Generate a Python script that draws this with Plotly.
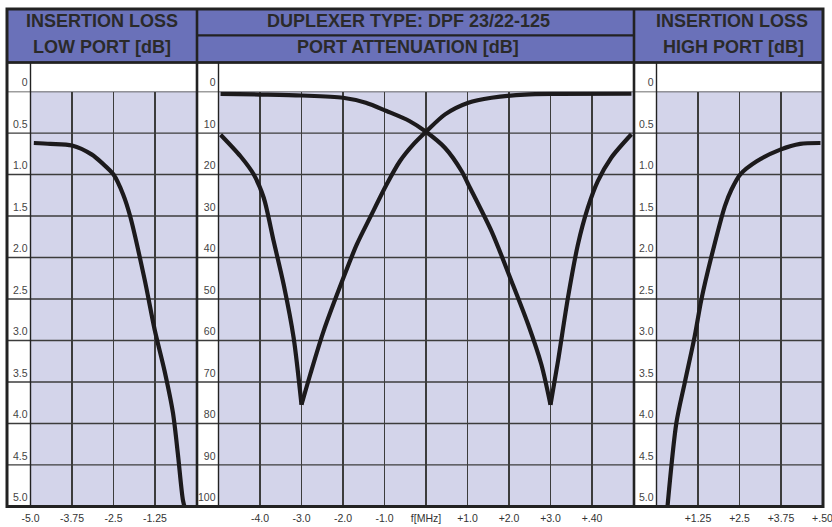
import plotly.graph_objects as go

# ---------------- data ----------------
# Left panel: insertion loss, low port (frequency offset MHz, loss dB)
low_f = [-4.9, -4.4, -3.75, -3.15, -2.85, -2.5, -2.21, -2.0, -1.56, -1.26, -0.96, -0.71, -0.56, -0.41, -0.33]
low_il = [0.62, 0.63, 0.65, 0.76, 0.86, 1.0, 1.24, 1.5, 2.27, 2.87, 3.37, 3.87, 4.37, 4.92, 5.05]

# Right panel: insertion loss, high port
high_f = [0.32, 0.60, 0.85, 1.15, 1.35, 1.66, 2.06, 2.26, 2.52, 3.02, 3.73, 4.33, 4.94]
high_il = [5.05, 3.99, 3.51, 2.95, 2.51, 1.98, 1.38, 1.18, 1.0, 0.84, 0.70, 0.63, 0.62]

# Middle panel: port attenuation (dB)
attA_f = [-4.95, -4.0, -3.0, -2.0, -1.45, -0.95, -0.4, 0.0, 0.46, 0.86, 1.02, 1.58, 2.06, 2.46, 2.78,
          3.0, 3.18, 3.42, 3.66, 3.90, 4.14, 4.46, 4.95]
attA_db = [0.55, 0.72, 0.96, 1.5, 2.7, 4.7, 7.1, 9.7, 13.6, 19.2, 22.4, 33.7, 45.7, 56.1, 65.8,
           75.5, 65.0, 49.7, 36.9, 28.0, 21.6, 16.0, 10.3]
attB_f = [-4.95, -4.47, -4.15, -3.91, -3.67, -3.43, -3.19, -3.0, -2.79, -2.47, -1.99, -1.67, -1.35,
          -0.95, -0.63, -0.31, 0.0, 0.46, 1.02, 1.58, 2.38, 3.18, 4.95]
attB_db = [10.4, 15.6, 20.0, 25.6, 36.1, 46.5, 59.3, 75.5, 68.2, 57.8, 44.9, 36.9, 30.4,
           22.4, 16.8, 12.8, 9.7, 5.5, 2.7, 1.5, 0.72, 0.55, 0.48]

# tick labels
il_ticks = [0, 0.5, 1.0, 1.5, 2.0, 2.5, 3.0, 3.5, 4.0, 4.5, 5.0]
il_text = ["0", "0.5", "1.0", "1.5", "2.0", "2.5", "3.0", "3.5", "4.0", "4.5", "5.0"]
att_ticks = [0, 10, 20, 30, 40, 50, 60, 70, 80, 90, 100]
att_text = ["0", "10", "20", "30", "40", "50", "60", "70", "80", "90", "100"]
low_xticks = [-5.0, -3.75, -2.5, -1.25]
low_xtext = ["-5.0", "-3.75", "-2.5", "-1.25"]
mid_xticks = [-4, -3, -2, -1, 0, 1, 2, 3, 4]
mid_xtext = ["-4.0", "-3.0", "-2.0", "-1.0", "f[MHz]", "+1.0", "+2.0", "+3.0", "+.40"]
high_xticks = [1.25, 2.5, 3.75, 5.0]
high_xtext = ["+1.25", "+2.5", "+3.75", "+.50"]

headers = [
    ("INSERTION LOSS", 102, 21.5), ("LOW PORT [dB]", 102, 46.5),
    ("DUPLEXER TYPE: DPF 23/22-125", 408, 21.5), ("PORT ATTENUATION [dB]", 408, 46.5),
    ("INSERTION LOSS", 732, 21.5), ("HIGH PORT [dB]", 733, 46.5),
]

# ---------------- styling / geometry ----------------
W, H = 832, 527
BLUE = "#6a71b9"
LAV = "#d3d4ea"
DARK = "#222222"
GRID = "#3c3c3c"
CURVE = "#1c1a1c"
FONT = "Liberation Sans, Arial, sans-serif"


def px(x):
    return x / W


def py(y):
    return 1 - y / H


L, R, T, B = 7, 823, 9, 506.5
HDR_B, GRID_T = 62.5, 91.5
X1 = (30.5, 196.5)
X2 = (218.5, 633.5)
X3 = (656.5, 822.5)
SEP1, SEP2 = 197, 634

fig = go.Figure()


def add_curve(xs, ys, xa, ya):
    fig.add_trace(go.Scatter(x=xs, y=ys, mode="lines", xaxis=xa, yaxis=ya,
                             line=dict(color=CURVE, width=4.2, shape="spline", smoothing=0.8),
                             hoverinfo="skip", showlegend=False))


def add_notched(xs, ys, xa, ya):
    k = ys.index(max(ys))
    add_curve(xs[:k + 1], ys[:k + 1], xa, ya)
    add_curve(xs[k:], ys[k:], xa, ya)


add_curve(low_f, low_il, "x", "y")
add_notched(attA_f, attA_db, "x2", "y2")
add_notched(attB_f, attB_db, "x2", "y2")
add_curve(high_f, high_il, "x3", "y3")

ydom = [py(B), py(GRID_T)]
tickfont_y = dict(family=FONT, size=10.5, color="#444444")
tickfont_x = dict(family=FONT, size=10.5, color="#333333")

xcommon = dict(showline=False, zeroline=False, showgrid=True, gridcolor=GRID, gridwidth=1.3,
               ticks="", tickfont=tickfont_x, tickmode="array", fixedrange=True, ticklabelstandoff=4,
               automargin=False, ticklabeloverflow="allow")
ycommon = dict(showline=False, zeroline=False, showgrid=False, ticks="", tickfont=tickfont_y,
               tickmode="array", fixedrange=True, ticklabelshift=9, ticklabelstandoff=2,
               automargin=False, ticklabeloverflow="allow")

fig.update_layout(
    template="none",
    width=W, height=H, margin=dict(l=0, r=0, t=0, b=0, pad=0), autosize=False,
    paper_bgcolor="white", plot_bgcolor=LAV, showlegend=False,
    xaxis=dict(domain=[px(X1[0]), px(X1[1])], range=[-5.0005, 0], tickvals=low_xticks, ticktext=low_xtext,
               anchor="y", **xcommon),
    yaxis=dict(domain=ydom, range=[5.0005, -0.0005], tickvals=il_ticks, ticktext=il_text, anchor="x",
               **ycommon),
    xaxis2=dict(domain=[px(X2[0]), px(X2[1])], range=[-5, 5], tickvals=mid_xticks, ticktext=mid_xtext,
                anchor="y2", **xcommon),
    yaxis2=dict(domain=ydom, range=[100.01, -0.01], tickvals=att_ticks, ticktext=att_text, anchor="x2",
                **ycommon),
    xaxis3=dict(domain=[px(X3[0]), px(X3[1])], range=[0, 5.0005], tickvals=high_xticks, ticktext=high_xtext,
                anchor="y3", **xcommon),
    yaxis3=dict(domain=ydom, range=[5.0005, -0.0005], tickvals=il_ticks, ticktext=il_text, anchor="x3",
                **ycommon),
)

shapes = []


def rect(x0, y0, x1, y1, fill=None, lw=2, layer="below"):
    shapes.append(dict(type="rect", xref="paper", yref="paper", x0=px(x0), x1=px(x1), y0=py(y1), y1=py(y0),
                       fillcolor=fill if fill else "rgba(0,0,0,0)", line=dict(color=DARK, width=lw),
                       layer=layer))


def hline(x0, x1, y, lw=1.3, color=GRID, layer="below"):
    shapes.append(dict(type="line", xref="paper", yref="paper", x0=px(x0), x1=px(x1), y0=py(y), y1=py(y),
                       line=dict(color=color, width=lw), layer=layer))


def vline(x, y0, y1, lw=1.3, color=GRID, layer="below"):
    shapes.append(dict(type="line", xref="paper", yref="paper", x0=px(x), x1=px(x), y0=py(y0), y1=py(y1),
                       line=dict(color=color, width=lw), layer=layer))


# header boxes
rect(L, T, SEP1, HDR_B, BLUE, 2)
rect(SEP1, T, SEP2, 35.5, BLUE, 2)
rect(SEP1, 35.5, SEP2, HDR_B, BLUE, 2)
rect(SEP2, T, R, HDR_B, BLUE, 2)

# horizontal row lines across the full width (through the y scale)
for v in il_ticks[:-1]:
    shapes.append(dict(type="line", xref="paper", yref="y", x0=px(L), x1=px(R), y0=v, y1=v,
                       line=dict(color=GRID, width=1.3), layer="below"))

# label column separators
for xs in (X1[0], X2[0], X3[0]):
    vline(xs, HDR_B, B, 1.4, DARK)

# panel separators & outer frame
vline(SEP1, T, B, 2.6, DARK, "above")
vline(SEP2, T, B, 2.6, DARK, "above")
hline(L, R, HDR_B, 2.6, DARK, "above")
rect(L, T, R, B, None, 3, "above")

fig.update_layout(shapes=shapes)

for txt, x, y in headers:
    fig.add_annotation(text=txt, x=px(x), y=py(y), xref="paper", yref="paper", showarrow=False,
                       xanchor="center", yanchor="middle",
                       font=dict(family=FONT, size=18, color="#2a2a2a", weight="bold"))

fig.write_html("out.html", config={"displayModeBar": False, "staticPlot": True},
               post_script="document.body.style.margin='0px';document.body.style.overflow='hidden';")
